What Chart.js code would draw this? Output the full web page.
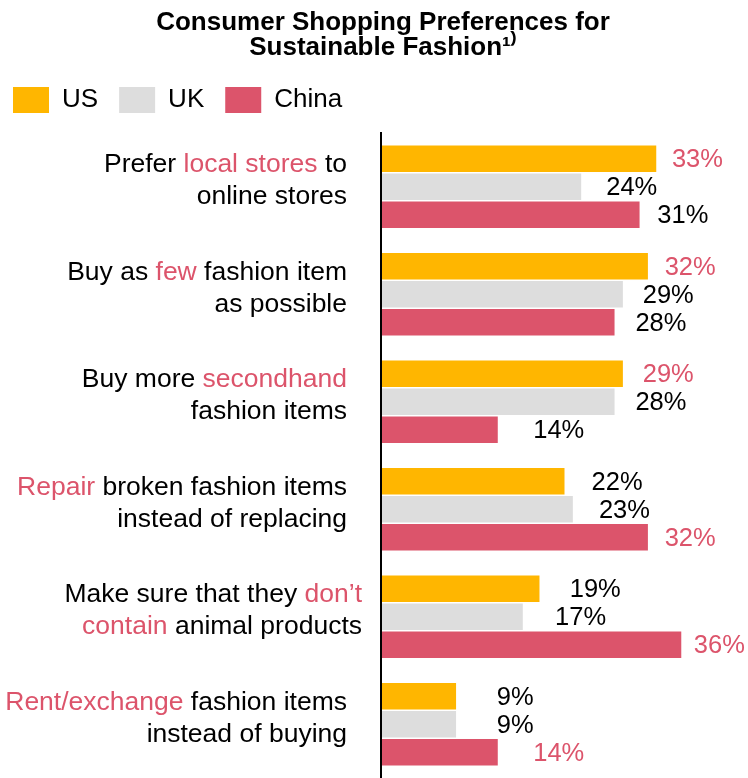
<!DOCTYPE html>
<html>
<head>
<meta charset="utf-8">
<script src="https://cdn.jsdelivr.net/npm/chart.js@4.4.1/dist/chart.umd.min.js"></script>
<style>
  html, body { margin: 0; padding: 0; background: #fff; overflow: hidden; }
  #wrap { width: 748px; height: 778px; position: relative; }
</style>
</head>
<body>
<div id="wrap"><canvas id="prefChart"></canvas></div>
<script>
// Statements, two lines each; words in [brackets] are highlighted
const categories = [
  ["Prefer [local stores] to", "online stores"],
  ["Buy as [few] fashion item", "as possible"],
  ["Buy more [secondhand]", "fashion items"],
  ["[Repair] broken fashion items", "instead of replacing"],
  ["Make sure that they [don\u2019t]", "[contain] animal products"],
  ["[Rent/exchange] fashion items", "instead of buying"]
];
const seriesNames = ["US", "UK", "China"];
const usValues = [33, 32, 29, 22, 19, 9];
const ukValues = [24, 29, 28, 23, 17, 9];
const chinaValues = [31, 28, 14, 32, 36, 14];

const FONT = "'Liberation Sans', Arial, Helvetica, sans-serif";
const RED = "#DC546B";
const colors = ["#FFB600", "#DDDDDD", RED];

// right edge of each statement block
const labelRight = [347, 347, 347, 347, 362, 347];

// Statement text left of the axis, with highlighted words in red
const statementLabels = {
  id: "statementLabels",
  afterDraw(chart) {
    const ctx = chart.ctx;
    const yScale = chart.scales.y;
    ctx.save();
    ctx.font = "26.5px " + FONT;
    ctx.textAlign = "left";
    ctx.textBaseline = "alphabetic";
    categories.forEach((lines, i) => {
      const mid = yScale.getPixelForValue(i);
      lines.forEach((line, j) => {
        const parts = line.split(/(\[[^\]]+\])/).filter(s => s.length);
        const pieces = parts.map(p => {
          const hot = p.startsWith("[");
          const text = hot ? p.slice(1, -1) : p;
          return { text, hot, w: ctx.measureText(text).width };
        });
        const total = pieces.reduce((s, p) => s + p.w, 0);
        let x = labelRight[i] - total;
        const y = mid - 14.5 + j * 32;
        pieces.forEach(p => {
          ctx.fillStyle = p.hot ? RED : "#000";
          ctx.fillText(p.text, x, y);
          x += p.w;
        });
      });
    });
    ctx.restore();
  }
};

// Percent labels right of each bar; the top value of a group is red
const valueLabels = {
  id: "valueLabels",
  afterDatasetsDraw(chart) {
    const ctx = chart.ctx;
    const sets = chart.data.datasets;
    ctx.save();
    ctx.font = "25.5px " + FONT;
    ctx.textAlign = "left";
    ctx.textBaseline = "middle";
    sets.forEach((ds, d) => {
      chart.getDatasetMeta(d).data.forEach((bar, i) => {
        const v = ds.data[i];
        const top = Math.max(...sets.map(s => s.data[i]));
        ctx.fillStyle = v === top ? RED : "#000";
        // shorter bars get a wider gap before their label
        ctx.fillText(v + "%", bar.x + 50 - 1.04 * v, bar.y + 1.5);
      });
    });
    ctx.restore();
  }
};

// small horizontal nudges for the title and legend blocks
const headerNudge = {
  id: "headerNudge",
  afterLayout(chart) {
    chart.titleBlock.left += 18;
    chart.legend.left -= 8;
  }
};

const ctx = document.getElementById("prefChart").getContext("2d");

new Chart(ctx, {
  type: "bar",
  data: {
    labels: categories.map(c => c.join(" ").replace(/[\[\]]/g, "")),
    datasets: [usValues, ukValues, chinaValues].map((vals, k) => ({
      label: seriesNames[k],
      data: vals,
      backgroundColor: colors[k],
      borderWidth: 0,
      barPercentage: 0.95,
      categoryPercentage: 0.78
    }))
  },
  options: {
    indexAxis: "y",
    responsive: true,
    maintainAspectRatio: false,
    animation: false,
    events: [],
    layout: { padding: 0 },
    scales: {
      x: {
        type: "linear",
        position: "top",
        min: 0,
        max: 44,
        ticks: { display: false },
        grid: { display: false },
        border: { display: false },
        afterFit(scale) { scale.height = 10; }
      },
      y: {
        ticks: { display: false },
        grid: { display: false },
        border: { display: true, color: "#000", width: 2, z: 1 },
        afterFit(scale) { scale.width = 381; }
      }
    },
    plugins: {
      title: {
        display: true,
        text: ["Consumer Shopping Preferences for", "Sustainable Fashion\u00B9\u207E"],
        color: "#000",
        font: { family: FONT, size: 26, weight: "bold", lineHeight: 0.98 },
        padding: { top: 10, bottom: 5 }
      },
      legend: {
        display: true,
        position: "top",
        align: "start",
        labels: {
          color: "#000",
          font: { family: FONT, size: 26 },
          boxWidth: 36,
          boxHeight: 26,
          padding: 21
        }
      },
      tooltip: { enabled: false }
    }
  },
  plugins: [statementLabels, valueLabels, headerNudge]
});
</script>
</body>
</html>
